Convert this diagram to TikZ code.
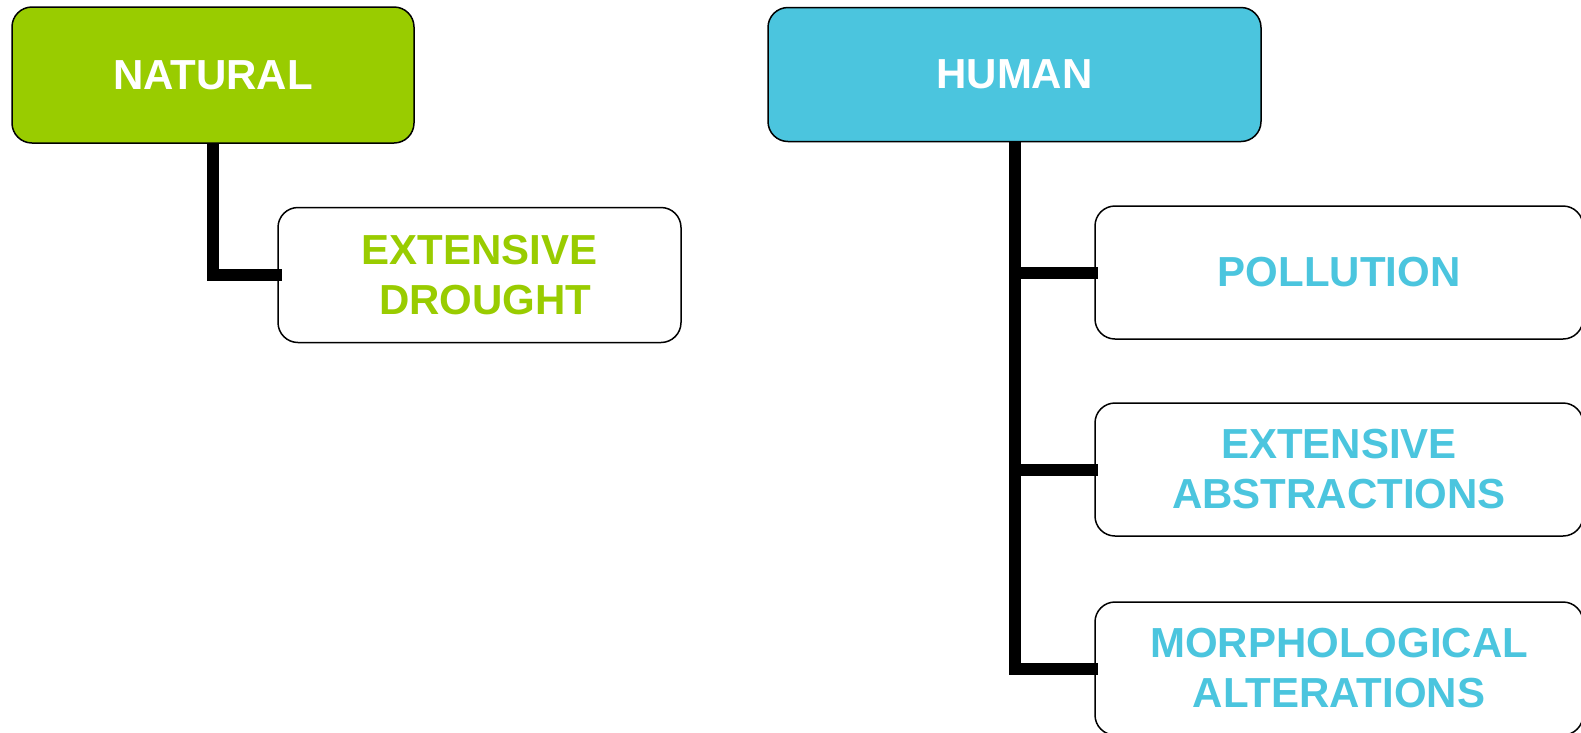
\documentclass[tikz,border=0pt]{standalone}
\usepackage{fontspec}
\setmainfont{Liberation Sans}
\definecolor{natgreen}{HTML}{99CC00}
\definecolor{humblue}{HTML}{4BC5DE}
\tikzset{
  catbox/.style={draw=black, line width=1.5pt, rounded corners=20pt, inner sep=0pt,
    align=center, font=\bfseries\fontsize{42}{50}\selectfont},
  link/.style={line width=12pt, draw=black, line join=miter, line cap=butt}
}
\begin{document}
\begin{tikzpicture}[x=1pt,y=-1pt]
\useasboundingbox (0,0) rectangle (1581,732);
\node[catbox, fill=natgreen, text=white, minimum width=402pt, minimum height=136pt] (nat) at (213,75) {NATURAL};
\node[catbox, fill=white, text=natgreen, minimum width=403pt, minimum height=135pt] (dro) at (479.5,275) {EXTENSIVE\\\hspace*{0.28em}DROUGHT};
\node[catbox, fill=humblue, text=white, minimum width=493pt, minimum height=134pt] (hum) at (1014.5,74.5) {HUMAN};
\node[catbox, fill=white, text=humblue, minimum width=488pt, minimum height=133pt] (pol) at (1339,272.5) {POLLUTION};
\node[catbox, fill=white, text=humblue, minimum width=488pt, minimum height=133pt] (abs) at (1339,469.5) {EXTENSIVE\\ABSTRACTIONS};
\node[catbox, fill=white, text=humblue, minimum width=488pt, minimum height=133pt] (mor) at (1339,668.5) {MORPHOLOGICAL\\ALTERATIONS};
\draw[link] (nat.south) |- ([xshift=5pt]dro.west);
\draw[link] (hum.south) |- ([xshift=4pt]mor.west);
\draw[link] (hum.south |- pol.west) -- ([xshift=4pt]pol.west);
\draw[link] (hum.south |- abs.west) -- ([xshift=4pt]abs.west);
\end{tikzpicture}
\end{document}
